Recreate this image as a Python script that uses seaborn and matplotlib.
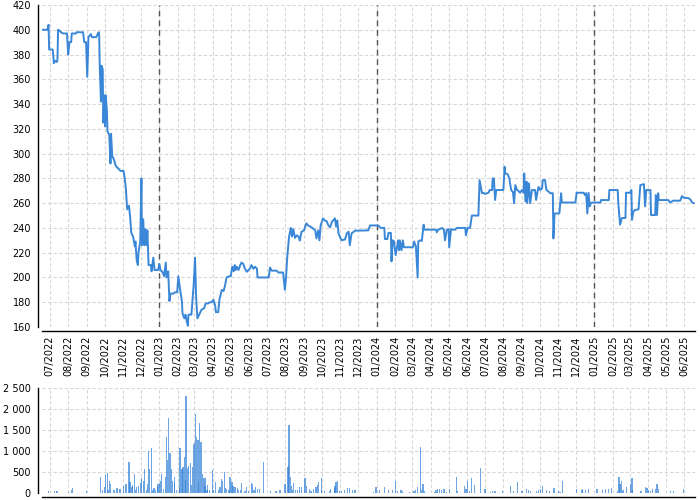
import numpy as np
import pandas as pd
import matplotlib
matplotlib.use("Agg")
import matplotlib.pyplot as plt
import matplotlib.dates as mdates
from matplotlib.ticker import FuncFormatter, MultipleLocator
import seaborn as sns

BASE_DATE = "2023-01-01"  # day offsets below are counted from this date

# ---- price series (day offset, price) ----
price_day_a = [-196, -188, -186, -185, -179, -177, -175, -172, -171, -170,
               -167, -164, -161, -155, -153, -151, -148, -147, -140, -139,
               -128, -126, -123, -121, -119, -115, -113, -106, -102, -101,
               -100, -98, -97, -95, -94, -92, -91, -90, -88, -87,
               -84, -82, -81, -79, -76, -73, -69, -65, -60, -58,
               -56, -54, -51, -49, -47, -44, -41, -40, -38, -36,
               -35, -32, -30, -29, -27, -25, -23, -21, -20, -18,
               -14, -13, -10, -8, -2, 0, 2, 6, 8, 11,
               12, 15, 17, 19, 24, 26, 30, 32, 35, 38,
               39, 42, 44, 46, 48, 49, 54, 58, 60, 62,
               64, 66, 68, 71, 75, 78, 82]
price_val_a = [400, 400, 404, 384, 384, 373, 375, 374, 376, 400,
               399, 397.5, 397, 397, 380, 390, 390, 397, 397, 398,
               398, 390, 390, 362, 394, 396.5, 394, 394, 398, 397,
               370, 342, 371, 368, 325, 347, 322, 347, 335, 318,
               315, 292, 316, 298, 295, 290, 288, 286, 286, 280,
               271, 255, 258, 249, 236, 233, 225, 229, 214, 210,
               220, 229, 280, 226, 247, 226, 239, 226, 238, 210,
               210, 205, 216, 206, 206, 211, 206, 204, 201, 212,
               200, 205, 181, 187, 187, 188, 188, 201, 190, 181,
               171, 167, 170, 165, 161, 170, 170, 196, 216, 183,
               167, 169, 171, 174, 175, 179, 179]

price_day_b = [85, 88, 91, 94, 95, 99, 101, 103, 105, 108,
               110, 113, 118, 120, 122, 123, 125, 127, 128, 130,
               133, 136, 138, 141, 144, 147, 150, 152, 155, 158,
               161, 164, 165, 184, 186, 189, 197, 200, 208, 211,
               213, 215, 218, 221, 223, 225, 228, 231, 234, 236,
               239, 243, 247, 250, 256, 262, 264, 267, 269, 271,
               275, 278, 281, 284, 287, 290, 295, 297, 299, 301,
               306, 312, 315, 318, 320, 323, 329, 351, 354, 368]
price_val_b = [180, 180, 182, 177, 172, 172, 182, 186, 190, 189,
               192.5, 200, 201, 201, 207, 208.7, 205, 210, 206, 208.7,
               206, 210, 212, 211, 207, 204.6, 206, 207, 210, 207,
               208.7, 207, 200, 200, 208, 205.5, 205.5, 204, 204, 190,
               201, 216.7, 233, 240, 233, 239, 232, 234, 233, 229.7,
               237, 238, 243.7, 242, 240.5, 238, 231.5, 238, 230, 242,
               247.7, 246, 245.5, 242, 240.5, 245, 247.7, 241, 246, 235.6,
               230, 230.7, 235.6, 237, 226, 235.6, 237.8, 238, 242, 242]

price_day_c = [372, 378, 379, 383, 385, 389, 390, 392, 394, 397,
               399, 401, 403, 404, 407, 409, 411, 426, 428, 431,
               434, 435, 438, 441, 444, 445, 460, 465, 466, 469,
               475, 478, 480, 483, 486, 487, 490, 493, 497, 500,
               514, 515, 518, 522, 525, 536, 538, 542, 544, 547,
               553, 555, 559, 560, 562, 564, 566, 578, 580, 581,
               585, 588, 591, 594, 596, 598, 601, 603, 606, 609,
               612, 613, 615, 617, 618, 621, 623, 626, 628, 631,
               633, 636, 637, 640, 643, 644, 648, 650, 654, 657,
               661, 662, 664, 668, 672, 675, 676, 699, 701, 713,
               715, 717, 719, 721, 723, 725, 727, 741, 742, 755,
               756, 770, 771, 774, 777, 783, 784, 791, 793, 794,
               796, 799, 805, 808, 814, 816, 818, 825, 826, 833,
               834, 836, 838, 839, 855, 858, 863, 875, 878, 881,
               889, 892, 895, 898]
price_val_c = [240, 240, 231, 231, 236, 236, 213, 230, 229.5, 218,
               223.5, 230, 222, 230, 222, 230, 224.4, 224.4, 229, 225,
               200, 229, 230, 229.5, 242.6, 238.6, 238.6, 238.6, 236.5, 238.6,
               240, 238.6, 230, 238.6, 239, 224.4, 239, 238.6, 238.6, 240,
               240, 234, 240, 240, 250, 250, 278.6, 268, 268.4, 267.4,
               268.4, 270.6, 270.6, 280, 280, 262.6, 270.6, 270.6, 289.4, 284,
               283.5, 280, 270.6, 269, 260, 274.6, 270.6, 270, 268.4, 270.6,
               268.4, 284, 261.3, 277.3, 260, 276, 260, 270.6, 270.6, 270.6,
               262.6, 271, 273, 270.6, 272, 278.6, 278.6, 271, 269.2, 268,
               268, 231.5, 251.7, 251.7, 251.7, 268, 260.5, 260.5, 268.4, 268.4,
               266.5, 268, 251.7, 268.4, 257.4, 260, 260.5, 260.5, 262.5, 262.5,
               270.6, 270.6, 260, 242.6, 248, 248, 268.4, 268.4, 270.6, 246.6,
               253, 254.5, 255, 274.6, 275.4, 257.4, 270.6, 270.6, 250.4, 250.4,
               266.5, 250.4, 268, 262.5, 262.5, 260.5, 262, 262, 265.7, 264.4,
               264, 263, 260.5, 260]

# ---- volume bars (day offset, volume) ----
vol_day = [-186, -176, -172, -153, -147, -146, -122, -99, -95, -92, -90, -87, -86, -84, -82,
           -76, -71, -66, -60, -57, -55, -51, -49, -46, -45, -42, -40, -38, -35, -32,
           -30, -27, -25, -22, -20, -18, -16, -13, -11, -9, -6, -3, -2, 0, 2,
           4, 7, 10, 12, 14, 16, 18, 20, 22, 25, 26, 29, 34, 35, 38,
           40, 42, 44, 45, 47, 49, 52, 54, 56, 57, 59, 61, 63, 65, 66,
           68, 70, 73, 75, 77, 78, 80, 81, 84, 89, 91, 94, 99, 102, 105,
           106, 109, 111, 113, 117, 119, 122, 124, 127, 131, 133, 136, 138, 144, 146,
           150, 155, 157, 159, 162, 165, 168, 175, 187, 196, 203, 211, 215, 217, 218,
           220, 222, 224, 226, 229, 232, 235, 239, 245, 247, 252, 255, 259, 263, 266,
           268, 272, 273, 277, 286, 288, 294, 295, 297, 299, 303, 306, 311, 316, 319,
           325, 329, 360, 364, 370, 378, 385, 392, 397, 400, 406, 409, 420, 428, 430,
           434, 439, 440, 443, 445, 462, 465, 467, 471, 474, 478, 482, 487, 499, 501,
           513, 515, 518, 521, 525, 530, 539, 547, 556, 560, 564, 577, 590, 595, 602,
           609, 617, 620, 624, 634, 637, 640, 644, 650, 656, 663, 670, 673, 677, 701,
           710, 711, 716, 721, 735, 745, 750, 754, 759, 770, 772, 774, 776, 779, 785,
           792, 794, 795, 809, 817, 819, 822, 825, 829, 833, 836, 839, 859, 864, 881]
vol_val = [46, 46, 54, 31, 62, 108, 54, 377, 62, 154, 423, 469, 62, 285, 215,
           62, 123, 100, 177, 215, 215, 730, 254, 138, 200, 446, 77, 138, 160, 246,
           346, 292, 577, 62, 215, 1007, 561, 1061, 77, 123, 62, 138, 215, 246, 292,
           446, 92, 385, 1330, 792, 1777, 946, 561, 292, 385, 238, 77, 123, 1061, 561,
           615, 869, 308, 2307, 600, 638, 715, 200, 615, 1161, 1200, 1892, 1330, 1254, 254,
           1677, 1215, 461, 369, 177, 369, 77, 200, 62, 538, 62, 254, 62, 138, 330,
           277, 500, 123, 100, 77, 385, 254, 177, 138, 123, 77, 62, 230, 46, 138,
           46, 246, 215, 77, 154, 85, 85, 738, 46, 38, 62, 215, 615, 638, 1630,
           385, 177, 77, 246, 77, 62, 154, 138, 354, 177, 100, 38, 100, 154, 200,
           254, 346, 77, 46, 46, 92, 123, 177, 254, 292, 46, 38, 77, 123, 123,
           62, 62, 23, 154, 77, 138, 77, 62, 292, 46, 62, 46, 23, 46, 62,
           154, 1092, 77, 215, 46, 23, 62, 100, 100, 62, 100, 31, 100, 392, 46,
           161, 100, 292, 38, 346, 200, 600, 100, 23, 46, 46, 46, 169, 46, 254,
           46, 100, 62, 46, 46, 77, 100, 177, 77, 46, 123, 46, 23, 292, 100,
           62, 100, 62, 100, 100, 77, 92, 100, 123, 46, 385, 215, 292, 77, 138,
           215, 369, 62, 46, 138, 123, 77, 46, 100, 100, 215, 100, 46, 46, 100]

year_marks = ["2023-01-01", "2024-01-01", "2025-01-01"]
x_start_day, x_end_day = -197, 900

LINE_COLOR = "#3a87d8"
BAR_COLOR = "#2f80d6"
GRID_COLOR = "#d6d6d6"

sns.set_theme(style="white")
plt.rcParams["font.family"] = ["DejaVu Sans"]

base = pd.Timestamp(BASE_DATE)
price_df = pd.DataFrame({
    "date": base + pd.to_timedelta(price_day_a + price_day_b + price_day_c, unit="D"),
    "price": price_val_a + price_val_b + price_val_c,
})
vol_dates = base + pd.to_timedelta(vol_day, unit="D")

fig = plt.figure(figsize=(7, 5), dpi=100)
ax1 = fig.add_axes([0.060, 0.346, 0.933, 0.644])
ax2 = fig.add_axes([0.060, 0.014, 0.933, 0.210], sharex=ax1)

sns.lineplot(data=price_df, x="date", y="price", ax=ax1, color=LINE_COLOR,
             linewidth=1.4, estimator=None, sort=False)
ax2.bar(vol_dates, vol_val, width=2.2, color=BAR_COLOR, alpha=0.7, linewidth=0)

for d in year_marks:
    ax1.axvline(pd.Timestamp(d), color="#555555", linestyle=(0, (4, 3)), linewidth=1.0, zorder=1)

ax1.set_xlim(base + pd.Timedelta(days=x_start_day), base + pd.Timedelta(days=x_end_day))
ax1.set_ylim(160, 420)
ax1.yaxis.set_major_locator(MultipleLocator(20))
ax2.set_ylim(0, 2500)
ax2.yaxis.set_major_locator(MultipleLocator(500))
ax2.yaxis.set_major_formatter(FuncFormatter(lambda v, p: f"{int(v):,}".replace(",", " ")))

ax1.xaxis.set_major_locator(mdates.MonthLocator())
ax1.xaxis.set_major_formatter(mdates.DateFormatter("%m/%Y"))

for ax in (ax1, ax2):
    ax.set_xlabel("")
    ax.set_ylabel("")
    ax.set_axisbelow(True)
    ax.grid(True, color=GRID_COLOR, linestyle=(0, (3, 2)), linewidth=0.8)
    ax.tick_params(axis="both", which="major", labelsize=7, length=3, width=0.8,
                   color="black", labelcolor="black", pad=2)
    for s in ("left", "bottom"):
        ax.spines[s].set_color("black")
        ax.spines[s].set_linewidth(1.0)
    sns.despine(ax=ax, offset=3)

ax1.tick_params(axis="x", length=2, pad=1)
plt.setp(ax1.get_xticklabels(), rotation=90)
ax2.tick_params(axis="x", labelbottom=False, length=0)

fig.savefig("out.png", dpi=100)
